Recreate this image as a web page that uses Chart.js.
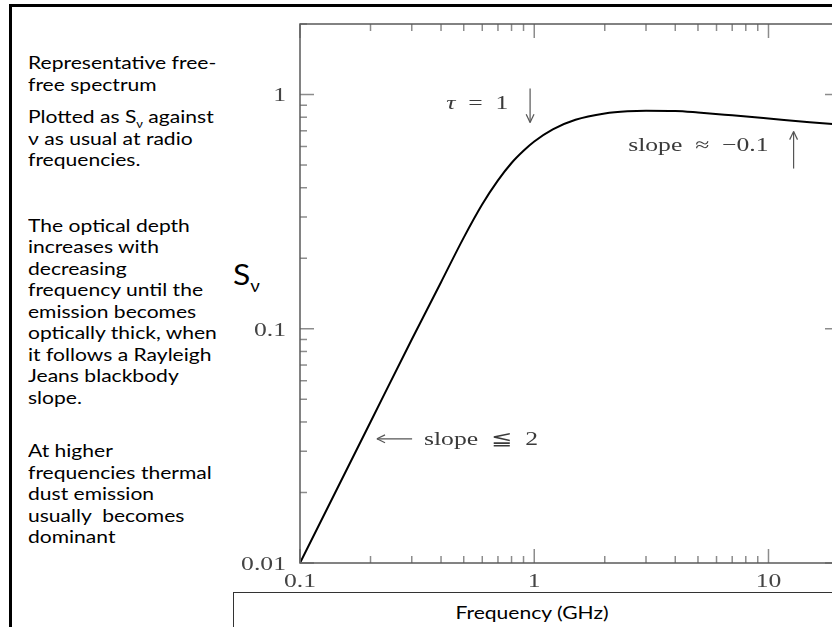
<!DOCTYPE html>
<html>
<head>
<meta charset="utf-8">
<script src="https://cdn.jsdelivr.net/npm/chart.js@4.4.0/dist/chart.umd.min.js"></script>
<style>
    html, body { margin: 0; padding: 0; background: #fff; width: 832px; height: 627px; overflow: hidden; }
    #wrap { position: absolute; left: 0; top: 0; width: 845px; height: 627px; }
    .edgeTop { position: absolute; left: 9px; top: 4px; width: 830px; height: 3px; background: #000; }
    .edgeLeft { position: absolute; left: 9px; top: 4px; width: 3px; height: 640px; background: #000; }
    #notes { position: absolute; left: 28px; top: 52px; font-family: Lato, "Open Sans", sans-serif; font-size: 18px; line-height: 21.5px; color: #000; transform: scaleX(1.17); transform-origin: 0 0; }
    #notes p { margin: 0; }
    #notes sub { font-size: 11px; line-height: 0; }
    #sv { position: absolute; left: 233px; top: 256px; font-family: Lato, sans-serif; font-size: 29px; color: #000; transform: scaleX(1.1); transform-origin: 0 0; }
    #sv sub { font-size: 17px; vertical-align: -7px; }
    #xbox { position: absolute; left: 233px; top: 592px; width: 700px; height: 80px; border: 1px solid #333; }
    #xtitle { position: absolute; left: 432px; top: 601px; width: 200px; text-align: center; font-family: Lato, sans-serif; font-size: 18px; color: #000; transform: scaleX(1.17); }
</style>
</head>
<body>
<div class="edgeTop"></div>
<div class="edgeLeft"></div>
<div id="notes">
    <p>Representative free-<br>free spectrum</p>
    <p style="margin-top:11px">Plotted as S<sub>ν</sub> against<br>ν as usual at radio<br>frequencies.</p>
    <p style="margin-top:44px">The optical depth<br>increases with<br>decreasing<br>frequency until the<br>emission becomes<br>optically thick, when<br>it follows a Rayleigh<br>Jeans blackbody<br>slope.</p>
    <p style="margin-top:32px">At higher<br>frequencies thermal<br>dust emission<br>usually&nbsp; becomes<br>dominant</p>
</div>
<div id="sv">S<sub>ν</sub></div>
<div id="xbox"></div>
<div id="xtitle">Frequency (GHz)</div>
<div id="wrap"><canvas id="spectrum" width="845" height="627"></canvas></div>

<script>
// free-free spectrum (GHz, flux in arbitrary units)
const freqGHz = [0.1, 0.2, 0.3, 0.4, 0.5, 0.6, 0.7, 0.8, 0.9, 1.0, 1.2, 1.5, 2, 2.5, 3, 4, 5, 7, 10, 15, 20];
const fluxSv = [0.01, 0.04, 0.09, 0.158, 0.245, 0.34, 0.43, 0.51, 0.575, 0.63, 0.71, 0.78, 0.83, 0.848, 0.852, 0.85, 0.838, 0.815, 0.79, 0.762, 0.745];

const xRange = [0.1, 20];
const yRange = [0.01, 2];
const xTickLabels = ['0.1', '1', '10'];
const yTickLabels = ['0.01', '0.1', '1'];

// annotations, anchored in data units; '*' marks a run set in italic
const noteTexts = [['*τ', '\u2002=\u20021'], ['slope\u2002≈\u2002−0.1'], ['slope\u2002≦\u20022']];
const noteX = [0.571, 5.02, 0.593];
const noteY = [0.915, 0.605, 0.0336];
// arrows: [x, y] start and end, head at the end
const arrowFrom = [[0.96, 1.06], [12.8, 0.483], [0.301, 0.0339]];
const arrowTo = [[0.96, 0.76], [12.8, 0.695], [0.213, 0.0339]];

const inkGrey = '#3a3a3a';
const serifFace = '19px "Liberation Serif", "DejaVu Serif", serif';
const stretch = 1.35;

function isDecade(v) {
    const l = Math.log10(v);
    return Math.abs(l - Math.round(l)) < 1e-6;
}

function logTicks(min, max) {
    const out = [];
    for (let e = Math.floor(Math.log10(min)); e <= Math.ceil(Math.log10(max)); e++) {
        for (let m = 1; m < 10; m++) {
            const v = +(m * Math.pow(10, e)).toPrecision(6);
            if (v >= min - 1e-9 && v <= max + 1e-9) out.push({ value: v });
        }
    }
    return out;
}

// TeX-looking text is wider than it is tall in the figure
function wideRuns(ctx, runs, px, py, align) {
    const fonts = runs.map(r => r[0] === '*' ? 'italic ' + serifFace : serifFace);
    const texts = runs.map(r => r[0] === '*' ? r.slice(1) : r);
    let total = 0;
    const widths = texts.map((t, i) => { ctx.font = fonts[i]; const w = ctx.measureText(t).width; total += w; return w; });
    let start = align === 'center' ? -total / 2 : (align === 'right' ? -total : 0);
    ctx.save();
    ctx.translate(px, py);
    ctx.scale(stretch, 1);
    ctx.textAlign = 'left';
    ctx.textBaseline = 'middle';
    texts.forEach((t, i) => {
        ctx.font = fonts[i];
        ctx.fillText(t, start, 0);
        start += widths[i];
    });
    ctx.restore();
}

function seg(ctx, x0, y0, x1, y1) {
    ctx.beginPath();
    ctx.moveTo(x0, y0);
    ctx.lineTo(x1, y1);
    ctx.stroke();
}

const framePlugin = {
    id: 'frame',
    afterDraw(chart) {
        const { ctx, chartArea: a } = chart;
        const xs = chart.scales.x, ys = chart.scales.y;
        ctx.save();

        // inward ticks on all four sides
        ctx.strokeStyle = '#8c8c8c';
        ctx.lineWidth = 1.5;
        xs.ticks.forEach(t => {
            const px = xs.getPixelForValue(t.value);
            const len = isDecade(t.value) ? 14 : 7;
            seg(ctx, px, a.bottom, px, a.bottom - len);
            seg(ctx, px, a.top, px, a.top + len);
        });
        ys.ticks.forEach(t => {
            const py = ys.getPixelForValue(t.value);
            const len = isDecade(t.value) ? 14 : 7;
            seg(ctx, a.left, py, a.left + len, py);
            seg(ctx, a.right, py, a.right - len, py);
        });

        ctx.strokeStyle = '#5a5a5a';
        ctx.strokeRect(a.left, a.top, a.right - a.left, a.bottom - a.top);

        // tick labels
        ctx.fillStyle = '#444';
        xTickLabels.forEach(s => {
            wideRuns(ctx, [s], xs.getPixelForValue(parseFloat(s)), a.bottom + 19, 'center');
        });
        yTickLabels.forEach(s => {
            wideRuns(ctx, [s], a.left - 14, ys.getPixelForValue(parseFloat(s)) + 2, 'right');
        });

        // annotations
        ctx.fillStyle = inkGrey;
        noteTexts.forEach((runs, i) => {
            wideRuns(ctx, runs, xs.getPixelForValue(noteX[i]), ys.getPixelForValue(noteY[i]), 'center');
        });
        ctx.strokeStyle = '#555';
        ctx.lineWidth = 1.2;
        arrowFrom.forEach((p, i) => {
            const x0 = xs.getPixelForValue(p[0]), y0 = ys.getPixelForValue(p[1]);
            const x1 = xs.getPixelForValue(arrowTo[i][0]), y1 = ys.getPixelForValue(arrowTo[i][1]);
            seg(ctx, x0, y0, x1, y1);
            const ang = Math.atan2(y1 - y0, x1 - x0);
            [0.45, -0.45].forEach(d => {
                seg(ctx, x1, y1, x1 - 9 * Math.cos(ang + d), y1 - 9 * Math.sin(ang + d));
            });
        });
        ctx.restore();
    }
};

new Chart(document.getElementById('spectrum'), {
    type: 'line',
    data: {
        datasets: [{
            data: freqGHz.map((f, i) => ({ x: f, y: fluxSv[i] })),
            borderColor: '#000',
            borderWidth: 2,
            pointRadius: 0,
            cubicInterpolationMode: 'monotone',
            fill: false
        }]
    },
    options: {
        responsive: false,
        animation: false,
        devicePixelRatio: 1,
        layout: { padding: { top: 24, right: 6, left: 0, bottom: 0 } },
        plugins: { legend: { display: false }, tooltip: { enabled: false } },
        scales: {
            x: {
                type: 'logarithmic',
                min: xRange[0],
                max: xRange[1],
                grid: { display: false, drawTicks: false },
                border: { display: false },
                ticks: { display: false },
                afterBuildTicks: s => { s.ticks = logTicks(xRange[0], xRange[1]); },
                afterFit: s => { s.height = 64; }
            },
            y: {
                type: 'logarithmic',
                min: yRange[0],
                max: yRange[1],
                grid: { display: false, drawTicks: false },
                border: { display: false },
                ticks: { display: false },
                afterBuildTicks: s => { s.ticks = logTicks(yRange[0], yRange[1]); },
                afterFit: s => { s.width = 300; }
            }
        }
    },
    plugins: [framePlugin]
});
</script>
</body>
</html>
